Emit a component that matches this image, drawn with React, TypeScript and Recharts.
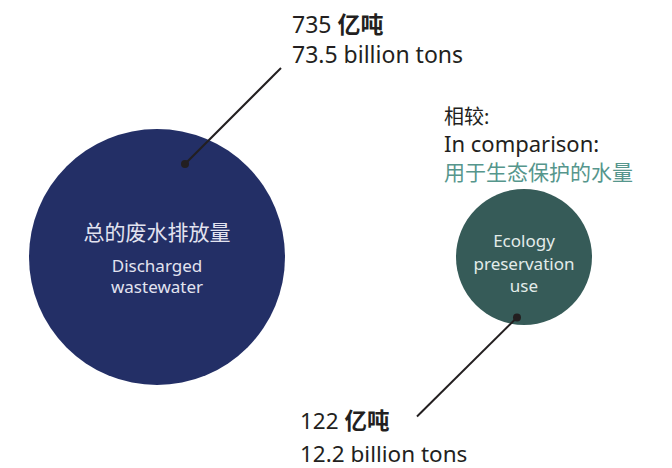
import React from 'react';
import { ScatterChart, Scatter, XAxis, YAxis, ZAxis } from 'recharts';

// ---- data ----
const categoriesZh = ['总的废水排放量', '用于生态保护的水量'];
const categoriesEn = [['Discharged', 'wastewater'], ['Ecology', 'preservation', 'use']];
const amountYi = [735, 122];
const amountBillion = [73.5, 12.2];
const unitZh = '亿吨';
const unitEn = 'billion tons';
const comparisonZh = '相较:';
const comparisonEn = 'In comparison:';

const FONT = '"Noto Sans", "Noto Sans CJK SC", sans-serif';
const INK = '#231F20';

// layout / style per bubble (relative to its centre)
const styles = [
  {
    fill: '#232F66',
    textFill: '#E2E3F0',
    innerZh: { dy: -17, size: 21 },
    innerEn: { dy0: 15, step: 21, size: 17 },
    dot: [28, -93],
    lead: [124, -189],
    ann: { dx: 135, dy0: -224, dy1: -194, size: 23 },
  },
  {
    fill: '#365B58',
    textFill: '#E3ECEA',
    innerEn: { dy0: -9.5, step: 22.5, size: 17 },
    dot: [-7, 60.5],
    lead: [-107, 159.5],
    ann: { dx: -224, dy0: 172.5, dy1: 205.5, size: 22.5 },
    cmp: { dx: -80, dy0: -133, dy1: -104.5, dy2: -77 },
  },
];

const data = categoriesZh.map((c, i) => ({
  x: i,
  y: 0,
  value: amountYi[i],
  zh: c,
  en: categoriesEn[i],
  billion: amountBillion[i],
}));

const Bubble = (props: any) => {
  const { cx, cy, payload, index } = props;
  const i = typeof index === 'number' ? index : data.findIndex((d) => d.zh === payload.zh);
  const s: any = styles[i];
  const r = props.size ? Math.sqrt(props.size / Math.PI) : props.width / 2;
  const dx = cx + s.dot[0];
  const dy = cy + s.dot[1];
  return (
    <g>
      <circle cx={cx} cy={cy} r={r} fill={s.fill} />
      {s.innerZh && (
        <text x={cx} y={cy + s.innerZh.dy} textAnchor="middle" fill={s.textFill}
          fontFamily={FONT} fontSize={s.innerZh.size}>{payload.zh}</text>
      )}
      {payload.en.map((t: string, k: number) => (
        <text key={k} x={cx} y={cy + s.innerEn.dy0 + k * s.innerEn.step} textAnchor="middle"
          fill={s.textFill} fontFamily={FONT} fontSize={s.innerEn.size}>{t}</text>
      ))}
      <line x1={dx} y1={dy} x2={cx + s.lead[0]} y2={cy + s.lead[1]} stroke={INK} strokeWidth={2} />
      <circle cx={dx} cy={dy} r={4} fill={INK} />
      <text x={cx + s.ann.dx} y={cy + s.ann.dy0} fill={INK} fontFamily={FONT} fontSize={s.ann.size}>
        <tspan>{payload.value} </tspan>
        <tspan fontWeight={700}>{unitZh}</tspan>
      </text>
      <text x={cx + s.ann.dx} y={cy + s.ann.dy1} fill={INK} fontFamily={FONT} fontSize={s.ann.size}>
        {payload.billion} {unitEn}
      </text>
      {s.cmp && (
        <g fontFamily={FONT}>
          <text x={cx + s.cmp.dx} y={cy + s.cmp.dy0} fill={INK} fontSize={20}>{comparisonZh}</text>
          <text x={cx + s.cmp.dx} y={cy + s.cmp.dy1} fill={INK} fontSize={22}>{comparisonEn}</text>
          <text x={cx + s.cmp.dx} y={cy + s.cmp.dy2} fill="#56968C" fontSize={21}>{payload.zh}</text>
        </g>
      )}
    </g>
  );
};

export default function App() {
  return (
    <div style={{ position: 'absolute', left: 0, top: 0, width: 672, height: 468, background: '#fff' }}>
      <ScatterChart width={672} height={468} margin={{ top: 0, right: 0, bottom: 0, left: 0 }}>
        <XAxis type="number" dataKey="x" hide domain={[-0.4278, 1.4033]} allowDataOverflow />
        <YAxis type="number" dataKey="y" hide domain={[-0.4509, 0.5491]} allowDataOverflow />
        <ZAxis type="number" dataKey="value" domain={['dataMin', 'dataMax']} range={[Math.PI * 68 * 68, Math.PI * 128 * 128]} />
        <Scatter data={data} shape={Bubble} isAnimationActive={false} />
      </ScatterChart>
    </div>
  );
}
